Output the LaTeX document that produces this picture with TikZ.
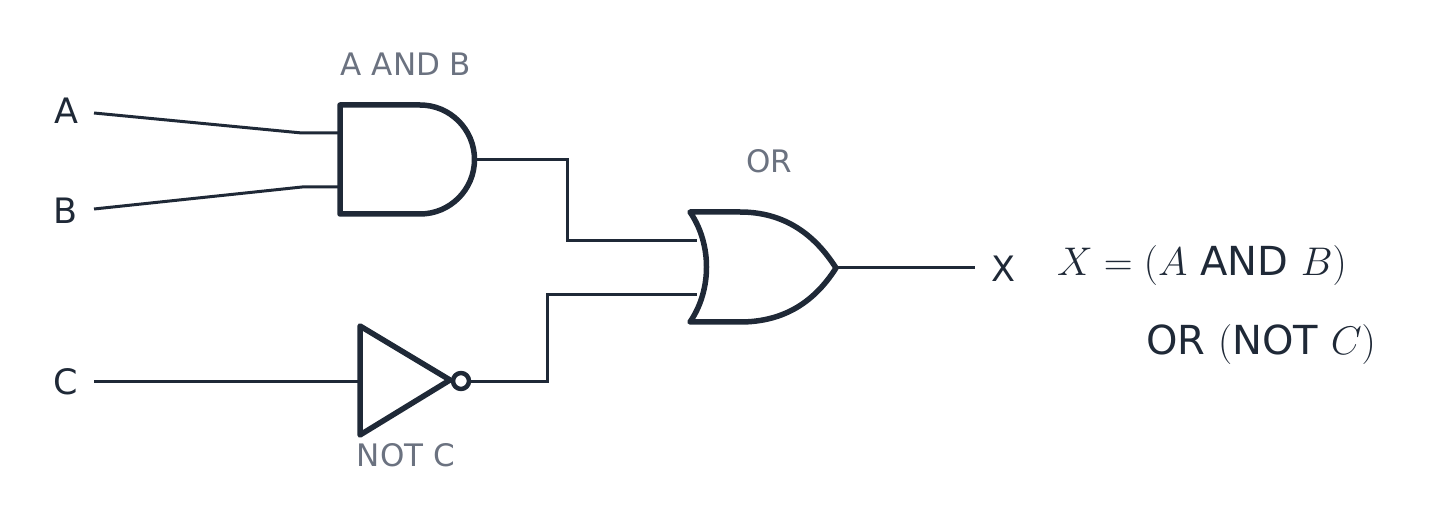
\RequirePackage{fix-cm}
\documentclass[tikz,border=0pt]{standalone}
\usepackage{fontspec}
\setmainfont{DejaVu Sans}
\begin{document}
\begin{tikzpicture}[x=1pt,y=-1pt,
  wire/.style={line width=3pt,draw=dk},
  gate/.style={line width=5.5pt,draw=dk,line join=round},
  lab/.style={text=dk,font=\fontsize{35}{40}\selectfont},
  eql/.style={text=dk,font=\fontsize{40}{46}\selectfont},
  glab/.style={text=gr,font=\fontsize{31}{36}\selectfont}]
\definecolor{dk}{HTML}{1F2937}
\definecolor{gr}{HTML}{6B7280}
\useasboundingbox (0,0) rectangle (1430,521);
% labels
\node[lab] (la) at (66,111) {A};
\node[lab] (lb) at (66,211) {B};
\node[lab] (lc) at (66,382) {C};
\node[lab] (lx) at (1003,269) {X};
\node[glab] (tand) at (406,64) {A AND B};
\node[glab] (tor) at (769,161) {OR};
\node[glab] (tnot) at (406,455) {NOT C};
\node[eql] (eq1) at (1202,266) {$X=(A$ AND $B)$};
\node[eql] (eq2) at (1261,345) {OR $($NOT $C)$};
% coordinates
\coordinate (a0) at (94,113); \coordinate (a1) at (302,133); \coordinate (a2) at (340,133);
\coordinate (b0) at (94,209); \coordinate (b1) at (302,187); \coordinate (b2) at (340,187);
\coordinate (c0) at (94,381); \coordinate (c1) at (360,381);
\coordinate (ao) at (474,160); \coordinate (ak) at (567,160); \coordinate (ak2) at (567,241); \coordinate (oi1) at (697,241);
\coordinate (no) at (470,381); \coordinate (nk) at (547,381); \coordinate (nk2) at (547,295); \coordinate (oi2) at (697,295);
\coordinate (oo) at (836,268); \coordinate (xo) at (975,268);
% wires
\draw[wire] (a0) -- (a1) -- (a2);
\draw[wire] (b0) -- (b1) -- (b2);
\draw[wire] (c0) -- (c1);
\draw[wire] (ao) -- (ak) -- (ak2) -- (oi1);
\draw[wire] (no) -- (nk) -- (nk2) -- (oi2);
\draw[wire] (oo) -- (xo);
% AND gate
\draw[gate] (340,105) -- (420,105) arc[start angle=-90,end angle=90,radius=54.5] -- (340,214) -- cycle;
% OR gate
\draw[gate] (690,212) -- (740,212) .. controls (785,212) and (815,235) .. (836,268)
  .. controls (815,301) and (785,322) .. (740,322) -- (690,322)
  .. controls (712,290) and (712,244) .. (690,212) -- cycle;
% NOT gate
\draw[gate] (360,326) -- (450,380) -- (360,435) -- cycle;
\draw[gate,line width=4.5pt] (461,381) circle[radius=8];
\end{tikzpicture}
\end{document}
